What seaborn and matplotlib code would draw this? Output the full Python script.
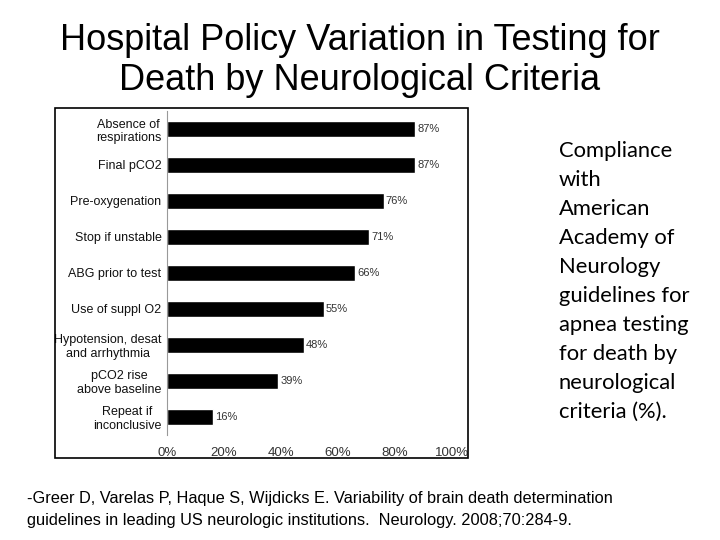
import numpy as np
import pandas as pd
import matplotlib
matplotlib.use('Agg')
import matplotlib.pyplot as plt
import seaborn as sns
from matplotlib.patches import Rectangle

# data
criteria = ['Absence of\nrespirations', 'Final pCO2', 'Pre-oxygenation', 'Stop if unstable',
            'ABG prior to test', 'Use of suppl O2', 'Hypotension, desat\nand arrhythmia',
            'pCO2 rise\nabove baseline', 'Repeat if\ninconclusive']
compliance = [87, 87, 76, 71, 66, 55, 48, 39, 16]
xticks = [0, 20, 40, 60, 80, 100]

sns.set_style('white')
plt.rcParams['font.family'] = ['Liberation Sans', 'DejaVu Sans']

df = pd.DataFrame({'criteria': criteria, 'pct': compliance})

fig = plt.figure(figsize=(7.2, 5.4), dpi=100)

# outer box round the pasted chart
fig.patches.append(Rectangle((55/720, 1-458/540), 413/720, 350/540, transform=fig.transFigure,
                             fill=False, edgecolor='black', linewidth=1.2))

ax = fig.add_axes([167/720, 1-435/540, 285/720, 324/540])
sns.barplot(data=df, x='pct', y='criteria', color='black', width=0.44, ax=ax, orient='h')
for p, v in zip(ax.patches, compliance):
    ax.text(v + 0.8, p.get_y() + p.get_height()/2, f'{v}%', va='center', ha='left',
            fontsize=8, color='#333333')

ax.set_xlim(0, 100)
ax.set_ylim(8.5, -0.5)
ax.set_xticks(xticks)
ax.set_xticklabels([f'{t}%' for t in xticks], fontsize=9.5, color='#333333')
ax.set_xlabel('')
ax.set_ylabel('')
for lab in ax.get_yticklabels():
    lab.set_fontsize(9)
    lab.set_multialignment('center')
    lab.set_color('#111111')
ax.set_yticks(np.arange(len(criteria)))
ax.set_yticks(np.arange(-0.5, len(criteria)), minor=True)
ax.tick_params(axis='y', which='major', length=0, pad=4)
ax.tick_params(axis='y', which='minor', length=4, color='#999999', direction='out')
ax.tick_params(axis='x', length=4, color='#999999', direction='out', pad=5)
for s in ['top', 'right', 'bottom']:
    ax.spines[s].set_visible(False)
ax.spines['left'].set_color('#999999')
ax.spines['left'].set_linewidth(0.8)

fig.text(0.5, 1-40/540, 'Hospital Policy Variation in Testing for', ha='center', va='center',
         fontsize=26, color='black')
fig.text(0.5, 1-80/540, 'Death by Neurological Criteria', ha='center', va='center',
         fontsize=26, color='black')

side = ('Compliance\nwith\nAmerican\nAcademy of\nNeurology\nguidelines for\napnea testing\n'
        'for death by\nneurological\ncriteria (%).')
fig.text(559/720, 1-141/540, side, ha='left', va='top', fontsize=15.8, linespacing=1.56,
         family=['Lato', 'DejaVu Sans'], color='black')

cite = ('-Greer D, Varelas P, Haque S, Wijdicks E. Variability of brain death determination\n'
        'guidelines in leading US neurologic institutions.  Neurology. 2008;70:284-9.')
fig.text(27/720, 1-491/540, cite, ha='left', va='top', fontsize=11.8, linespacing=1.55,
         color='black')

fig.savefig('out.png', dpi=100)
